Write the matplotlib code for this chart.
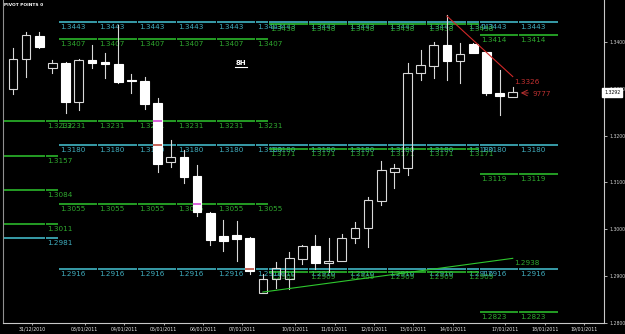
import numpy as np
import matplotlib
matplotlib.use('Agg')
import matplotlib.pyplot as plt
from matplotlib.patches import Rectangle
from matplotlib.lines import Line2D
from matplotlib.transforms import offset_copy, blended_transform_factory

# EURUSD 8H candles (31/12/2010 .. 17/01/2011)
opens = [1.3300, 1.3364, 1.3413, 1.3345, 1.3355, 1.3272, 1.3362, 1.3357, 1.3353, 1.3318,
         1.3317, 1.3270, 1.3143, 1.3155, 1.3113, 1.3034, 1.2985, 1.2987, 1.2981, 1.2864,
         1.2894, 1.2894, 1.2936, 1.2964, 1.2928, 1.2932, 1.2981, 1.3002, 1.3060, 1.3123,
         1.3130, 1.3334, 1.3349, 1.3394, 1.3360, 1.3396, 1.3379, 1.3291, 1.3283]
highs = [1.3387, 1.3421, 1.3421, 1.3362, 1.3357, 1.3364, 1.3394, 1.3377, 1.3436, 1.3332,
         1.3326, 1.3281, 1.3191, 1.3170, 1.3138, 1.3036, 1.3019, 1.3017, 1.2983, 1.2904,
         1.2930, 1.2951, 1.2966, 1.2987, 1.2981, 1.2991, 1.3015, 1.3068, 1.3145, 1.3140,
         1.3355, 1.3383, 1.3400, 1.3457, 1.3398, 1.3398, 1.3379, 1.3340, 1.3304]
lows = [1.3289, 1.3326, 1.3388, 1.3334, 1.3249, 1.3255, 1.3345, 1.3323, 1.3313, 1.3291,
        1.3257, 1.3123, 1.3132, 1.3098, 1.3028, 1.2966, 1.2953, 1.2932, 1.2904, 1.2864,
        1.2874, 1.2872, 1.2926, 1.2915, 1.2909, 1.2932, 1.2970, 1.2962, 1.3051, 1.3089,
        1.3115, 1.3319, 1.3323, 1.3319, 1.3313, 1.3376, 1.3287, 1.3245, 1.3283]
closes = [1.3364, 1.3415, 1.3389, 1.3355, 1.3272, 1.3362, 1.3355, 1.3353, 1.3315, 1.3316,
          1.3268, 1.3140, 1.3155, 1.3111, 1.3036, 1.2977, 1.2974, 1.2979, 1.2911, 1.2894,
          1.2917, 1.2938, 1.2964, 1.2928, 1.2932, 1.2981, 1.3002, 1.3062, 1.3126, 1.3130,
          1.3334, 1.3351, 1.3394, 1.3360, 1.3374, 1.3377, 1.3291, 1.3285, 1.3292]

# pivot levels, drawn per day (bounds are in bar units)
monthly_bounds = [3.5, 6.5, 9.5, 12.5, 15.5, 18.5, 19.5, 22.5, 25.5, 28.5, 31.5, 34.5, 35.5, 38.5, 41.5]
monthly_levels = [1.3443, 1.3180, 1.2916]
prevweek_bounds = [-3.5, 2.5, 3.5]
prevweek_green = [1.3232, 1.3157, 1.3084, 1.3011]
prevweek_cyan = [1.2981]
week1_bounds = [3.5, 6.5, 9.5, 12.5, 15.5, 18.5, 19.5]
week1_levels = [1.3407, 1.3231, 1.3055]
week2_bounds = [19.5, 22.5, 25.5, 28.5, 31.5, 34.5, 35.5]
week2_levels = [1.3438, 1.3171, 1.2909]
week3_bounds = [35.5, 38.5, 41.5]
week3_levels = [1.3414, 1.3119, 1.2823]

# trend lines
red_x = [33, 38]
red_y = [1.3455, 1.3326]
grn_x = [19, 38]
grn_y = [1.2866, 1.2938]

date_bars = [1, 5, 8, 11, 14, 17, 21, 24, 27, 30, 33, 37, 40, 43]
date_labels = ['31/12/2010', '03/01/2011', '04/01/2011', '05/01/2011', '06/01/2011',
               '07/01/2011', '10/01/2011', '11/01/2011', '12/01/2011', '13/01/2011',
               '14/01/2011', '17/01/2011', '18/01/2011', '19/01/2011']
price_ticks = [1.28, 1.29, 1.30, 1.31, 1.32, 1.33, 1.34]
last_price = 1.3292

CYAN = '#47c6d6'
CYAN_TXT = '#40aebf'
GREEN = '#2ec72e'
GREEN_TXT = '#2fa82f'
CANDLE = '#d8d8d8'

fig = plt.figure(figsize=(6.25, 3.34), dpi=100, facecolor='black')
ax = fig.add_axes([3 / 625, 11 / 334, 601 / 625, 323 / 334], facecolor='black')
x0, x1 = -0.76, 44.94
ax.set_xlim(x0, x1)
ax.set_ylim(1.28021, 1.34894)

lbl_tr = offset_copy(ax.transData, fig=fig, x=1, y=-2, units='dots')


def invert(c):
    r, g, b = matplotlib.colors.to_rgb(c)
    return (1 - r, 1 - g, 1 - b)


def draw_pivots(bounds, levels, color, tcolor):
    for a, b in zip(bounds[:-1], bounds[1:]):
        for lv in levels:
            ax.plot([a, b - 0.08], [lv, lv], color=color, lw=1.1, zorder=1,
                    solid_capstyle='butt')
            # day labels starting off-chart are not shown
            if a >= x0:
                ax.text(a, lv, f'{lv:.4f}', transform=lbl_tr, ha='left', va='top',
                        fontsize=5.2, color=tcolor, zorder=1)
            # line shows inverted over the white bear bodies
            for i in range(len(opens)):
                if a < i < b and closes[i] < opens[i] and closes[i] <= lv <= opens[i]:
                    ax.plot([i - 0.33, i + 0.33], [lv, lv], color=invert(color),
                            lw=1.1, zorder=4, solid_capstyle='butt')


draw_pivots(monthly_bounds, monthly_levels, CYAN, CYAN_TXT)
draw_pivots(prevweek_bounds, prevweek_cyan, CYAN, CYAN_TXT)
draw_pivots(prevweek_bounds, prevweek_green, GREEN, GREEN_TXT)
draw_pivots(week1_bounds, week1_levels, GREEN, GREEN_TXT)
draw_pivots(week2_bounds, week2_levels, GREEN, GREEN_TXT)
draw_pivots(week3_bounds, week3_levels, GREEN, GREEN_TXT)

# candles
w = 0.66
for i, (o, h, l, c) in enumerate(zip(opens, highs, lows, closes)):
    top, bot = max(o, c), min(o, c)
    ax.plot([i, i], [top, h], color=CANDLE, lw=0.8, zorder=3)
    ax.plot([i, i], [l, bot], color=CANDLE, lw=0.8, zorder=3)
    if c >= o:
        ax.add_patch(Rectangle((i - w / 2, bot), w, max(top - bot, 0.00005),
                               facecolor='none', edgecolor=CANDLE, lw=0.8, zorder=3))
    else:
        ax.add_patch(Rectangle((i - w / 2, bot), w, max(top - bot, 0.00005),
                               facecolor='white', edgecolor='white', lw=0.8, zorder=3))

# trend lines
ax.plot(red_x, red_y, color='#d02828', lw=0.8, zorder=5)
ax.text(red_x[-1], red_y[-1], f'{red_y[-1]:.4f}', transform=lbl_tr, ha='left', va='top',
        fontsize=5.2, color='#c43030', zorder=5)
ax.plot(grn_x, grn_y, color=GREEN, lw=0.8, zorder=5)
ax.text(grn_x[-1], grn_y[-1], f'{grn_y[-1]:.4f}', transform=lbl_tr, ha='left', va='top',
        fontsize=5.2, color=GREEN_TXT, zorder=5)

ax.annotate('', xy=(38.4, last_price - 0.0001), xytext=(39.4, last_price - 0.0001),
            arrowprops=dict(arrowstyle='->', color='#b83030', lw=0.7), zorder=5)
ax.text(39.5, last_price - 0.0004, '9777', ha='left', va='center', fontsize=5.2,
        color='#b83030', zorder=5)

# axes styling
ax.spines['top'].set_visible(False)
ax.spines['left'].set_color('#909090')
ax.spines['right'].set_color('#c8c8c8')
ax.spines['bottom'].set_color('#c8c8c8')
for s in ['left', 'right', 'bottom']:
    ax.spines[s].set_linewidth(0.8)

ax.yaxis.tick_right()
ax.set_yticks(price_ticks)
ax.set_yticklabels([f'{v:.4f}' for v in price_ticks])
ax.tick_params(axis='y', colors='#d0d0d0', labelsize=3.3, length=2.5, width=0.6, pad=1.5)
ax.set_xticks([d + 0.45 for d in date_bars])
ax.set_xticklabels(date_labels)
ax.tick_params(axis='x', colors='#e8e8e8', labelsize=3.4, length=1.5, width=0.5, pad=1)

bt = blended_transform_factory(ax.transAxes, ax.transData)
ax.text(1.0, last_price, f'{last_price:.4f}', transform=bt, ha='left', va='center',
        fontsize=3.3, color='black', zorder=10, clip_on=False,
        bbox=dict(boxstyle='square,pad=0.45', fc='white', ec='white'))

fig.text(4 / 625, 1 - 5.5 / 334, 'PIVOT POINTS 0', ha='left', va='center',
         fontsize=3.2, color='white', fontweight='bold')
fig.text(241 / 625, 1 - 63 / 334, '8H', ha='center', va='center',
         fontsize=5, color='white', fontweight='bold')
fig.add_artist(Line2D([235 / 625, 247 / 625], [1 - 67 / 334, 1 - 67 / 334],
                      color='white', lw=0.8))

fig.savefig('out.png', dpi=100, facecolor='black')
